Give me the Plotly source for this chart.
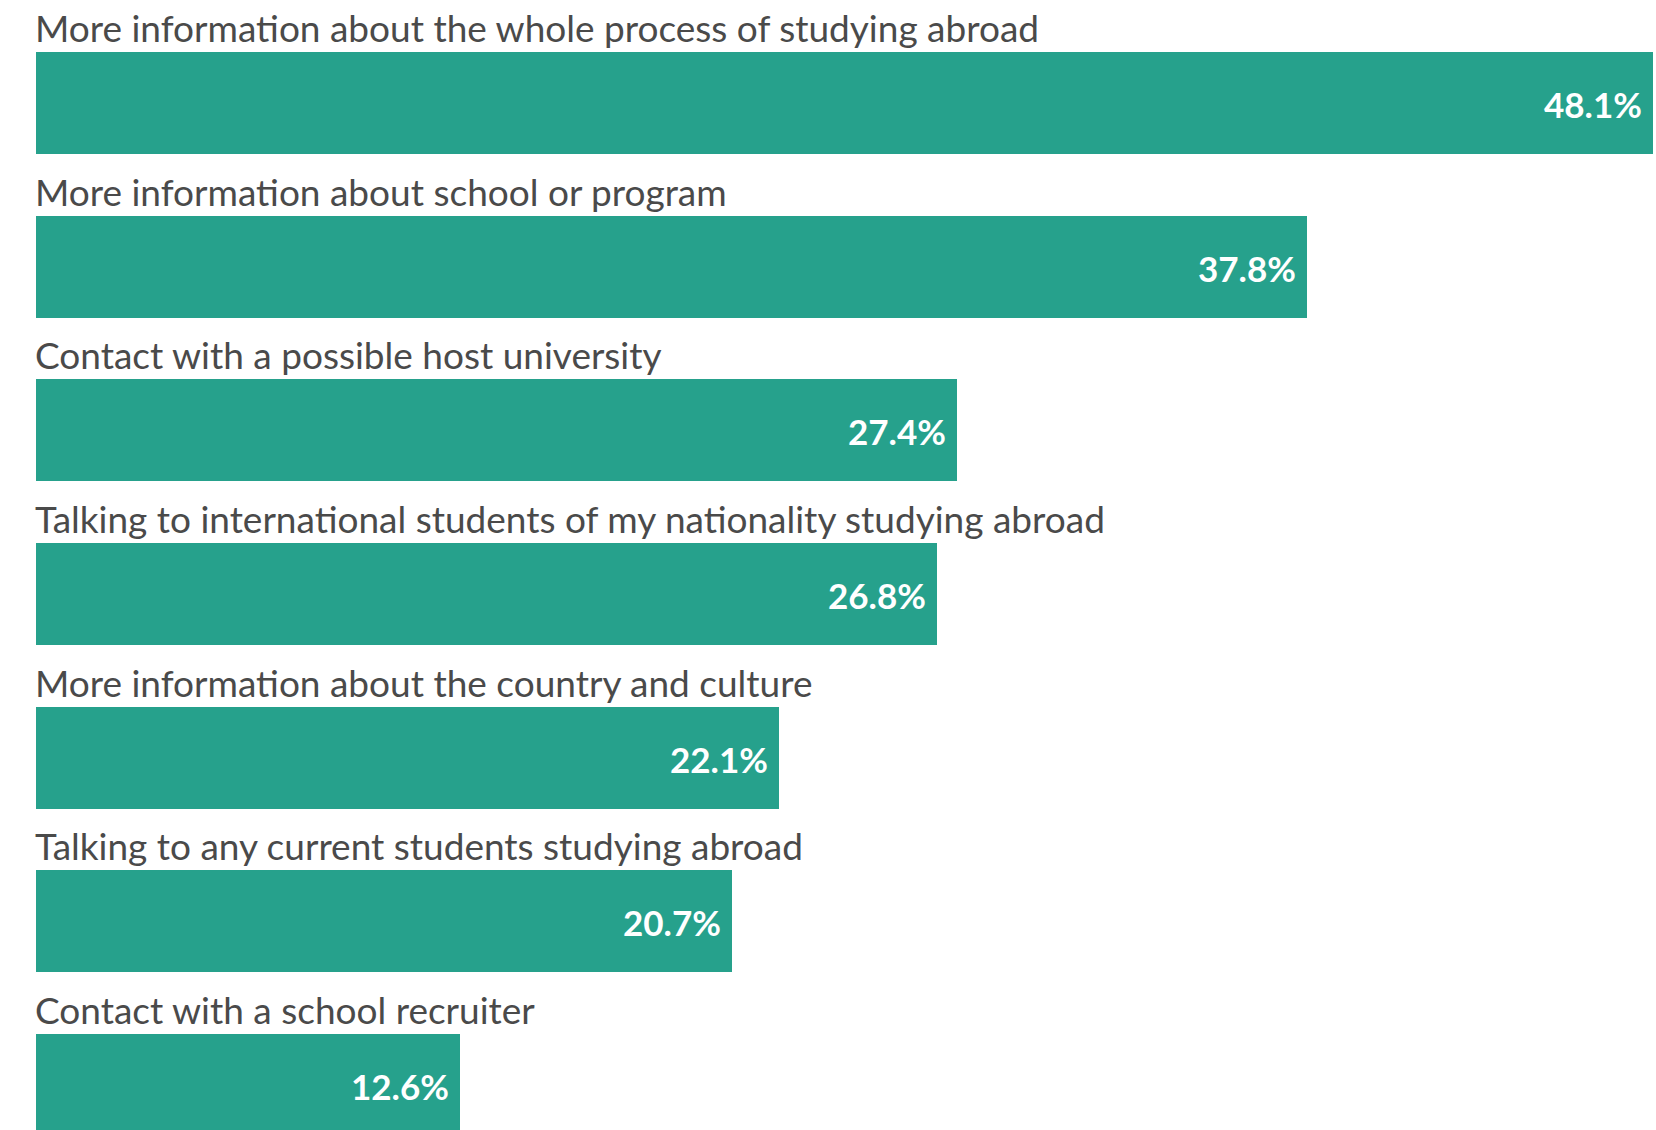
import plotly.graph_objects as go

# Survey responses: what would help most when considering study abroad
categories = [
    "More information about the whole process of studying abroad",
    "More information about school or program",
    "Contact with a possible host university",
    "Talking to international students of my nationality studying abroad",
    "More information about the country and culture",
    "Talking to any current students studying abroad",
    "Contact with a school recruiter",
]
shares = [48.1, 37.8, 27.4, 26.8, 22.1, 20.7, 12.6]
value_labels = ["48.1%", "37.8%", "27.4%", "26.8%", "22.1%", "20.7%", "12.6%"]

BAR_COLOR = "#26A18C"
LABEL_COLOR = "#4a4a4a"
FONT = "Lato, 'Source Sans Pro', 'Open Sans', sans-serif"
BAR_WIDTH = 0.623

rows = list(range(len(categories)))

fig = go.Figure(
    go.Bar(
        x=shares,
        y=rows,
        orientation="h",
        width=BAR_WIDTH,
        marker=dict(color=BAR_COLOR, line=dict(width=0)),
        hoverinfo="skip",
    )
)

annotations = []
for i, (cat, val, lab) in enumerate(zip(categories, shares, value_labels)):
    # category label sitting just above its bar
    annotations.append(dict(
        x=0, y=i - BAR_WIDTH / 2, xref="x", yref="y",
        text=cat, showarrow=False,
        xanchor="left", yanchor="bottom", xshift=-3, yshift=0,
        font=dict(family=FONT, size=37, color=LABEL_COLOR),
    ))
    # value label inside the bar end
    annotations.append(dict(
        x=val, y=i, xref="x", yref="y",
        text="<b>" + lab + "</b>", showarrow=False,
        xanchor="right", yanchor="middle", xshift=-9, yshift=-1,
        font=dict(family=FONT, size=35, color="white"),
    ))

fig.update_layout(
    width=1656,
    height=1130,
    margin=dict(l=0, r=0, t=0, b=0),
    paper_bgcolor="white",
    plot_bgcolor="white",
    showlegend=False,
    bargap=0,
    annotations=annotations,
    xaxis=dict(range=[-1.0708, 48.186], visible=False, fixedrange=True),
    yaxis=dict(range=[6.274, -0.629], visible=False, fixedrange=True),
)

fig.write_html("out.html", config={"displayModeBar": False})
